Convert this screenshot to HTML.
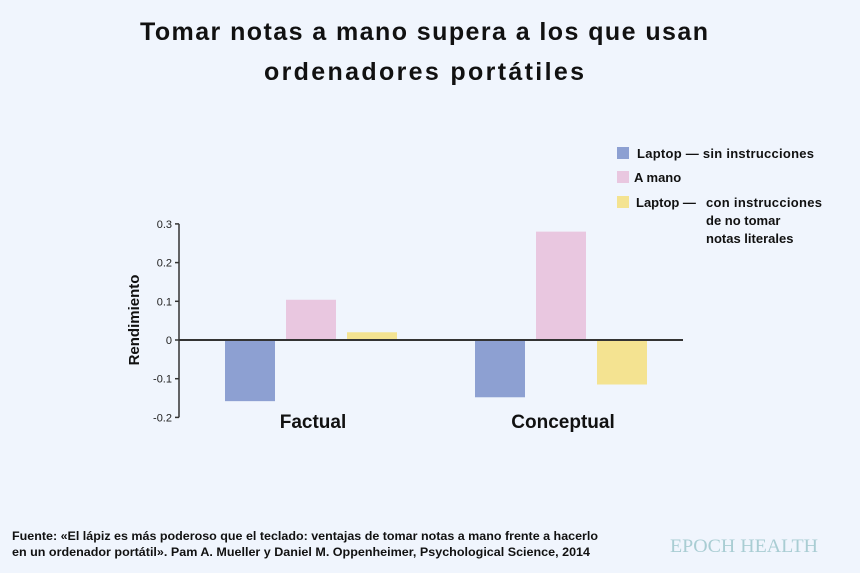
<!DOCTYPE html>
<html><head><meta charset="utf-8"><style>
html,body{margin:0;padding:0;background:#f0f5fd;}
svg{display:block;font-family:"Liberation Sans",sans-serif;}
</style></head><body>
<svg id="chart" width="860" height="573" viewBox="0 0 860 573">
<rect x="0" y="0" width="860" height="573" fill="#f0f5fd"/>
<text x="424" y="40" text-anchor="middle" font-size="25" font-weight="bold" fill="#111" textLength="568">Tomar notas a mano supera a los que usan</text>
<text x="424" y="80" text-anchor="middle" font-size="25" font-weight="bold" fill="#111" textLength="320">ordenadores portátiles</text>
<g id="legend">
<rect x="617" y="147" width="12" height="12" fill="#8da0d2"/>
<text x="637" y="158" font-size="13" font-weight="bold" fill="#111" textLength="177">Laptop — sin instrucciones</text>
<rect x="617" y="171" width="12" height="12" fill="#e9c7e0"/>
<text x="634" y="182" font-size="13" font-weight="bold" fill="#111">A mano</text>
<rect x="617" y="196" width="12" height="12" fill="#f4e391"/>
<text x="636" y="207" font-size="13" font-weight="bold" fill="#111">Laptop —</text>
<text x="706" y="207" font-size="13" font-weight="bold" fill="#111" textLength="116">con instrucciones</text>
<text x="706" y="225" font-size="13" font-weight="bold" fill="#111">de no tomar</text>
<text x="706" y="243" font-size="13" font-weight="bold" fill="#111">notas literales</text>
</g>
<text transform="translate(139,320) rotate(-90)" text-anchor="middle" font-size="15" font-weight="bold" fill="#111">Rendimiento</text>
<g id="plot"></g>
<text x="12" y="540" font-size="12" font-weight="bold" fill="#111" textLength="586" lengthAdjust="spacingAndGlyphs">Fuente: «El lápiz es más poderoso que el teclado: ventajas de tomar notas a mano frente a hacerlo</text>
<text x="12" y="556" font-size="12" font-weight="bold" fill="#111" textLength="578" lengthAdjust="spacingAndGlyphs">en un ordenador portátil». Pam A. Mueller y Daniel M. Oppenheimer, Psychological Science, 2014</text>
<text x="670" y="552" font-size="19" font-family="Liberation Serif,serif" fill="#a9cdd3" textLength="148" lengthAdjust="spacingAndGlyphs">EPOCH HEALTH</text>
</svg>
<script>
const categories = ["Factual", "Conceptual"];
const laptopValues = [-0.158, -0.148];
const handValues = [0.104, 0.28];
const laptopInstrValues = [0.02, -0.115];
const tickValues = [0.3, 0.2, 0.1, 0, -0.1, -0.2];
const tickLabels = ["0.3", "0.2", "0.1", "0", "-0.1", "-0.2"];

const NS = "http://www.w3.org/2000/svg";
const plot = document.getElementById("plot");
const y = v => 340 - v * 387;
const groupX = i => 311 + i * 250;
const colors = ["#8da0d2", "#e9c7e0", "#f4e391"];
const seriesList = [laptopValues, handValues, laptopInstrValues];
const seriesNames = ["laptop", "a-mano", "laptop-instr"];
function mk(tag, attrs){const e=document.createElementNS(NS,tag);for(const k in attrs)e.setAttribute(k,attrs[k]);plot.appendChild(e);return e;}

const axis = mk("line",{x1:179,x2:179,y1:y(0.3),y2:y(-0.2),stroke:"#333","stroke-width":1.5});


tickValues.forEach((v,i)=>{
  const t = mk("line",{x1:175,x2:179,y1:y(v),y2:y(v),stroke:"#333","stroke-width":1.5});
  
  
  const l = mk("text",{x:172,y:y(v)+4,"text-anchor":"end","font-size":11,fill:"#222"});
  l.textContent = tickLabels[i];
  
  
});
categories.forEach((c,i)=>{
  seriesList.forEach((s,j)=>{
    const v = s[i];
    const x = groupX(i) - 86 + j*61;
    const r = mk("rect",{x:x,y:Math.min(y(v),y(0)),width:50,height:Math.abs(y(v)-y(0)),fill:colors[j]});
    
    
  });
  const cl = mk("text",{x:groupX(i)+2,y:428,"text-anchor":"middle","font-size":19,"font-weight":"bold",fill:"#111"});
  cl.textContent = c;
  
  
});
const zero = mk("line",{x1:179,x2:683,y1:y(0),y2:y(0),stroke:"#333","stroke-width":2});


</script>
</body></html>
